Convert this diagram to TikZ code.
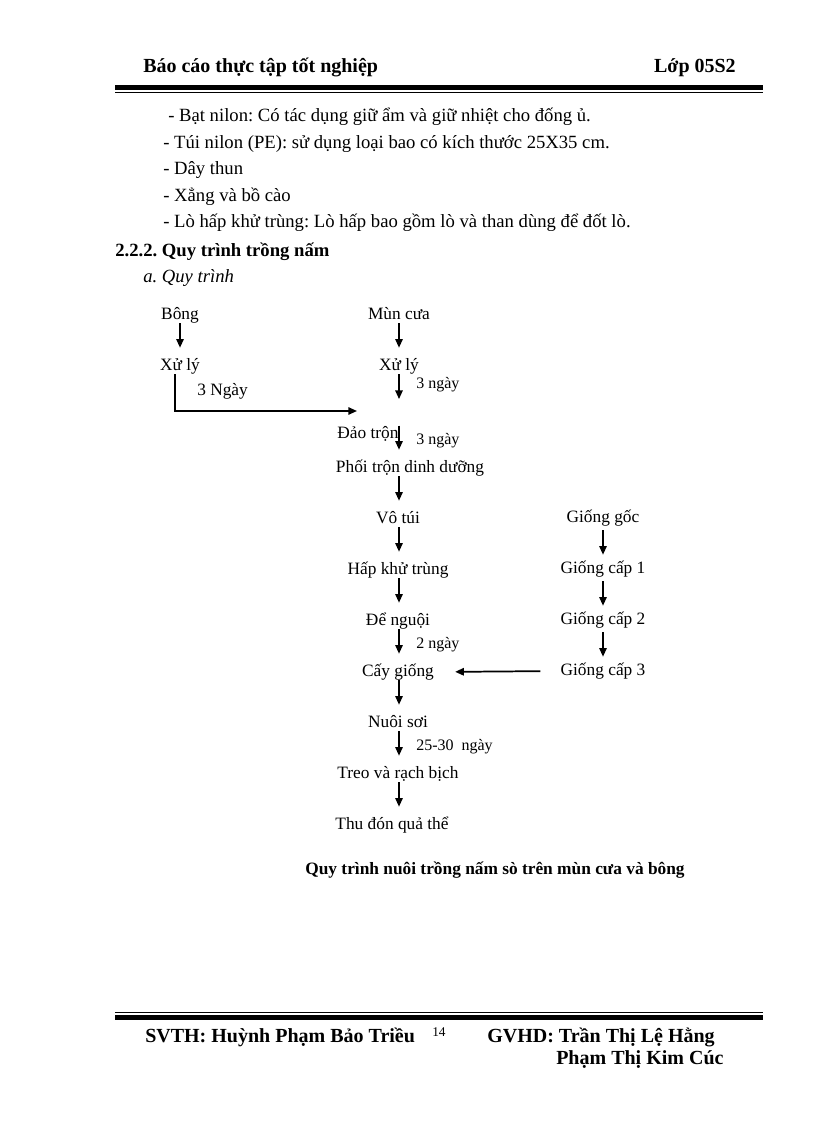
\documentclass[tikz,border=0pt]{standalone}
\usepackage{fontspec}
\setmainfont{Liberation Serif}
\usetikzlibrary{arrows.meta}

\tikzset{
  txt/.style={font=\fontsize{13}{15}\selectfont, inner sep=0pt},
  body/.style={font=\fontsize{14}{16}\selectfont, inner sep=0pt, anchor=base west},
  small/.style={font=\fontsize{12}{14}\selectfont, inner sep=0pt, anchor=base west},
  head/.style={font=\fontsize{15}{17}\selectfont\bfseries, inner sep=0pt},
  box/.style={txt, text height=9pt, text depth=3pt},
  arr/.style={-{Triangle[length=6.5pt,width=5.5pt]}, line width=1.3pt, shorten >=7.5pt},
}

\begin{document}
\frenchspacing
\begin{tikzpicture}[x=0.75pt, y=-0.75pt, node distance=38.25pt]
\useasboundingbox (0,0) rectangle (816,1123);

% page header
\node[head, anchor=base west] (title) at (143,72.5) {Báo cáo thực tập tốt nghiệp};
\node[head, anchor=base east] (class) at (736,72.5) {Lớp 05S2};
\draw[line width=3.75pt] (115,87.5) -- (763,87.5);
\draw[line width=0.75pt] (115,92.5) -- (763,92.5);

% text above the chart
\node[body] (l1) at (168,122) {- Bạt nilon: Có tác dụng giữ ẩm và giữ nhiệt cho đống ủ.};
\node[body] (l2) at (163,148.5) {- Túi nilon (PE): sử dụng loại bao có kích thước 25X35 cm.};
\node[body] (l3) at (163,175) {- Dây thun};
\node[body] (l4) at (163,201.5) {- Xẳng và bồ cào};
\node[body] (l5) at (163,228) {- Lò hấp khử trùng: Lò hấp bao gồm lò và than dùng để đốt lò.};
\node[body, font=\fontsize{14}{16}\selectfont\bfseries] (sec) at (115,256) {2.2.2. Quy trình trồng nấm};
\node[body, font=\fontsize{14}{16}\selectfont\itshape] (sub) at (143,282) {a. Quy trình};

% chart
\coordinate (col) at (399,0);
\coordinate (colr) at (603,0);
\coordinate (colb) at (175,0);
\coordinate (join) at (357,411);

\node[box] (bong) at (180,315) {Bông};
\node[box, below of=bong] (xl1) {Xử lý};
\node[box] (mun) at (399,315) {Mùn cưa};
\node[box, below of=mun] (xl2) {Xử lý};
\node[box, below of=xl2, xshift=-23.25pt, yshift=-12.75pt] (dao) {Đảo trộn};
\node[box, below of=dao, xshift=31.5pt, yshift=12.75pt] (phoi) {Phối trộn dinh dưỡng};
\node[box, below of=phoi, xshift=-9pt] (vo) {Vô túi};
\node[box, below of=vo] (hap) {Hấp khử trùng};
\node[box, below of=hap] (de) {Để nguội};
\node[box, below of=de] (cay) {Cấy giống};
\node[box, below of=cay] (nuoi) {Nuôi sơi};
\node[box, below of=nuoi] (treo) {Treo và rạch bịch};
\node[box, below of=treo, xshift=-4.5pt] (thu) {Thu đón quả thể};

\node[box] (gg) at (603,518) {Giống gốc};
\node[box, below of=gg] (gc1) {Giống cấp 1};
\node[box, below of=gc1] (gc2) {Giống cấp 2};
\node[box, below of=gc2] (gc3) {Giống cấp 3};

\node[txt, anchor=base west] (t1) at (197,395) {3 Ngày};
\node[small] (t2) at (416,388) {3 ngày};
\node[small] (t3) at (416,444) {3 ngày};
\node[small] (t4) at (416,648) {2 ngày};
\node[small] (t5) at (416,750) {25-30~ ngày};

\draw[arr] (bong) -- (xl1);
\draw[arr] (mun) -- (xl2);
\draw[arr, shorten >=0pt] (xl1.south -| colb) |- (join);
\draw[arr, shorten >=20pt] (xl2.south -| col) -- (dao.north -| col);
\draw[arr] (dao.north -| col) -- (phoi.north -| col);
\draw[arr] (phoi.south -| col) -- (vo.north -| col);
\draw[arr] (vo.south -| col) -- (hap.north -| col);
\draw[arr] (hap.south -| col) -- (de.north -| col);
\draw[arr] (de.south -| col) -- (cay.north -| col);
\draw[arr] (cay.south -| col) -- (nuoi.north -| col);
\draw[arr] (nuoi.south -| col) -- (treo.north -| col);
\draw[arr] (treo.south -| col) -- (thu.north -| col);

\draw[arr, shorten <=3pt, shorten >=4.5pt] (gg.south -| colr) -- (gc1.north -| colr);
\draw[arr, shorten <=3pt, shorten >=4.5pt] (gc1.south -| colr) -- (gc2.north -| colr);
\draw[arr, shorten <=3pt, shorten >=4.5pt] (gc2.south -| colr) -- (gc3.north -| colr);
\draw[arr, shorten <=15pt, shorten >=15.75pt] (gc3.west) -- (cay.east);

\node[txt, font=\fontsize{13}{15}\selectfont\bfseries, anchor=base] (cap) at (495,874) {Quy trình nuôi trồng nấm sò trên mùn cưa và bông};

% page footer
\draw[line width=0.75pt] (115,1012.5) -- (763,1012.5);
\draw[line width=3.75pt] (115,1017.5) -- (763,1017.5);
\node[head, anchor=base west] (svth) at (145,1042) {SVTH: Huỳnh Phạm Bảo Triều};
\node[txt, font=\fontsize{10}{12}\selectfont, anchor=base west] (page) at (432,1036) {14};
\node[head, anchor=base west] (gvhd) at (487,1042) {GVHD: Trần Thị Lệ Hằng};
\node[head, anchor=base west] (gvhd2) at (556,1064) {Phạm Thị Kim Cúc};
\end{tikzpicture}
\end{document}
